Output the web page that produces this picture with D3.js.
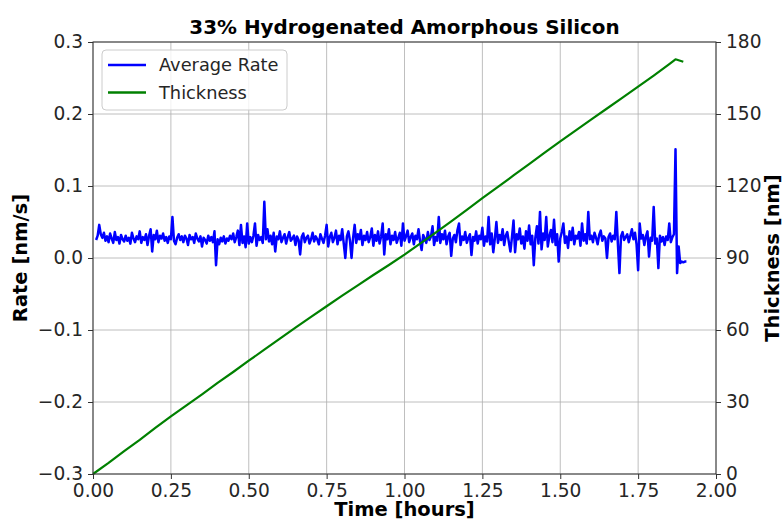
<!DOCTYPE html>
<html><head><meta charset="utf-8">
<script src="https://cdn.jsdelivr.net/npm/d3@7"></script>
<style>
html,body{margin:0;padding:0;background:#fff;}
text{font-family:"DejaVu Sans",sans-serif;}
</style></head>
<body><svg id="c" width="784" height="522"></svg>
<script>
const title = "33% Hydrogenated Amorphous Silicon";
const xTicks = [0,0.25,0.5,0.75,1.0,1.25,1.5,1.75,2.0];
const rateTicks = [-0.3,-0.2,-0.1,0.0,0.1,0.2,0.3];
const thickTicks = [0,30,60,90,120,150,180];
// rate samples: start time and spacing (hours), values in nm/s
const rateStart = 0.01, rateStep = 0.005;
const rateValues = [
0.025,0.031,0.046,0.033,0.028,0.035,0.024,0.030,0.022,0.034,0.027,0.021,0.036,0.025,0.029,0.020,0.032,0.026,0.023,0.031,
0.024,0.028,0.020,0.035,0.027,0.022,0.030,0.026,0.037,0.021,0.029,0.025,0.033,0.018,0.031,0.040,0.009,0.032,0.026,0.038,
0.022,0.031,0.027,0.034,0.024,0.029,0.021,0.030,0.026,0.057,0.024,0.019,0.028,0.033,0.025,0.030,0.022,0.031,0.027,0.018,
0.032,0.026,0.029,0.021,0.034,0.027,0.023,0.030,0.016,0.028,0.025,0.020,0.031,0.024,0.029,0.022,0.037,-0.010,0.026,0.019,
0.028,0.023,0.030,0.020,0.027,0.024,0.031,0.026,0.034,0.022,0.029,0.038,0.018,0.046,0.021,0.030,0.015,0.048,0.020,0.029,
0.022,0.031,0.048,0.017,0.032,0.025,0.029,0.021,0.078,0.026,0.040,0.023,0.031,0.019,0.035,0.009,0.030,0.026,0.037,0.022,
0.028,0.033,0.020,0.029,0.036,0.024,0.027,0.031,0.018,0.030,0.025,0.005,0.029,0.034,0.022,0.028,0.031,0.020,0.026,0.035,
0.023,0.030,0.026,0.019,0.033,0.027,0.021,0.031,0.046,0.016,0.029,0.035,0.022,0.028,0.038,0.019,0.031,0.025,0.040,0.020,
0.000,0.030,0.037,0.024,0.000,0.028,0.046,0.021,0.033,0.026,0.039,0.018,0.031,0.025,0.036,0.022,0.029,0.041,0.017,0.032,
0.024,0.037,0.020,0.030,0.048,0.005,0.033,0.026,0.040,0.019,0.031,0.025,0.036,0.021,0.028,0.035,0.017,0.048,0.024,0.030,
0.038,0.022,0.029,0.034,0.019,0.031,0.026,0.040,0.023,0.011,0.032,0.027,0.021,0.036,0.025,0.030,0.044,0.018,0.029,0.024,
0.057,0.021,0.033,0.026,0.038,0.019,0.030,0.035,0.003,0.027,0.032,0.022,0.039,0.048,0.018,0.030,0.025,0.036,0.021,0.028,
0.033,0.004,0.029,0.024,0.037,0.020,0.031,0.026,0.042,0.017,0.030,0.023,0.057,0.019,0.034,0.008,0.027,0.050,0.021,0.032,
0.025,0.040,0.018,0.031,0.036,0.022,0.009,0.029,0.052,0.008,0.033,0.026,0.041,0.020,0.030,0.013,0.037,0.024,0.045,0.019,
0.031,-0.010,0.028,0.044,0.020,0.064,0.012,0.034,0.025,0.057,0.016,0.030,0.039,0.022,0.053,0.018,0.033,-0.005,0.027,0.036,
0.048,0.021,0.030,0.014,0.037,0.025,0.042,0.019,0.031,0.027,0.036,0.017,0.048,0.024,0.033,0.020,0.064,0.026,0.031,0.022,
0.035,0.028,0.019,0.032,0.038,0.024,0.030,0.027,0.000,0.029,0.034,0.023,0.031,0.026,0.064,0.020,-0.021,0.030,0.036,0.025,
0.029,0.033,0.022,0.031,0.040,0.026,0.035,0.019,-0.017,0.048,0.027,0.032,0.018,0.030,0.037,0.002,0.028,0.024,0.071,0.020,
0.027,-0.014,0.031,0.023,0.029,0.018,0.030,0.025,0.048,0.022,0.029,0.033,0.151,-0.021,0.016,-0.007,-0.005,-0.006,-0.005,-0.005
];
const thickTimes = [0,0.05,0.1,0.15,0.2,0.25,0.3,0.35,0.4,0.45,0.5,0.55,0.6,0.65,0.7,0.75,0.8,0.85,0.9,0.95,1.0,1.05,1.1,1.15,1.2,1.25,1.3,1.35,1.4,1.45,1.5,1.55,1.6,1.65,1.7,1.75,1.8,1.85,1.87,1.895];
const thickValues = [0,4.6,9.5,14.2,19.2,24.0,28.6,33.2,38.0,42.5,47.2,51.8,56.4,61.0,65.5,69.9,74.3,78.6,82.9,87.1,91.4,96.0,100.6,105.3,110.1,114.9,119.6,124.4,129.1,133.9,138.6,143.2,147.8,152.3,156.8,161.4,166.0,170.8,172.8,171.8];
const legendLabels = ["Average Rate","Thickness"];
const colors = ["#0000ff","#008000"];

const svg = d3.select("#c");
const L=93,R=716,T=42,B=474;
const x = d3.scaleLinear().domain([0,2]).range([L,R]);
const yL = d3.scaleLinear().domain([-0.3,0.3]).range([B,T]);
const yR = d3.scaleLinear().domain([0,180]).range([B,T]);

// grid
const g = svg.append("g");
g.selectAll(".gx").data(xTicks).join("line")
  .attr("x1",d=>x(d)).attr("x2",d=>x(d)).attr("y1",T).attr("y2",B)
  .attr("stroke","#b0b0b0").attr("stroke-width",1).attr("opacity",0.8);
g.selectAll(".gy").data(rateTicks).join("line")
  .attr("y1",d=>yL(d)).attr("y2",d=>yL(d)).attr("x1",L).attr("x2",R)
  .attr("stroke","#b0b0b0").attr("stroke-width",1).attr("opacity",0.8);

const rateData = rateValues.map((v,i)=>[rateStart+i*rateStep, v]);
const thickData = thickTimes.map((t,i)=>[t, thickValues[i]]);

svg.append("path").datum(rateData)
  .attr("fill","none").attr("stroke",colors[0]).attr("stroke-width",2.5).attr("stroke-linejoin","round")
  .attr("d", d3.line().x(d=>x(d[0])).y(d=>yL(d[1])));
svg.append("path").datum(thickData)
  .attr("fill","none").attr("stroke",colors[1]).attr("stroke-width",2.2).attr("stroke-linejoin","round")
  .attr("d", d3.line().x(d=>x(d[0])).y(d=>yR(d[1])));

// axes
const fmtX = d3.format(".2f");
const fmtL = d=> d<0 ? "\u2212"+Math.abs(d).toFixed(1) : d.toFixed(1);
const ax = svg.append("g").attr("transform",`translate(0,${B})`)
  .call(d3.axisBottom(x).tickValues(xTicks).tickFormat(fmtX).tickSizeOuter(0).tickSize(5).tickPadding(4));
const al = svg.append("g").attr("transform",`translate(${L},0)`)
  .call(d3.axisLeft(yL).tickValues(rateTicks).tickFormat(fmtL).tickSizeOuter(0).tickSize(5).tickPadding(5));
const ar = svg.append("g").attr("transform",`translate(${R},0)`)
  .call(d3.axisRight(yR).tickValues(thickTicks).tickFormat(d3.format("d")).tickSizeOuter(0).tickSize(5).tickPadding(5));
[ax,al,ar].forEach(a=>{
  a.selectAll("text").attr("font-size","18.6px").attr("fill","#262626").attr("font-family","DejaVu Sans");
  a.selectAll("line").attr("stroke","#333");
  a.select(".domain").remove();
});
ax.selectAll("text").attr("dy","0.75em");
// spines
svg.append("rect").attr("x",L).attr("y",T).attr("width",R-L).attr("height",B-T)
  .attr("fill","none").attr("stroke","#333").attr("stroke-width",1);

// title + labels
svg.append("text").attr("x",(L+R)/2).attr("y",34).attr("text-anchor","middle")
  .attr("font-size","19.9px").attr("font-weight","bold").text(title);
svg.append("text").attr("x",(L+R)/2).attr("y",516).attr("text-anchor","middle")
  .attr("font-size","19.5px").attr("font-weight","bold").text("Time [hours]");
svg.append("text").attr("transform",`translate(27,${(T+B)/2}) rotate(-90)`).attr("text-anchor","middle")
  .attr("font-size","19.5px").attr("font-weight","bold").text("Rate [nm/s]");
svg.append("text").attr("transform",`translate(779,${(T+B)/2}) rotate(-90)`).attr("text-anchor","middle")
  .attr("font-size","19.5px").attr("font-weight","bold").text("Thickness [nm]");

// legend
const lg = svg.append("g");
lg.append("rect").attr("x",102).attr("y",50).attr("width",185).attr("height",60).attr("rx",4)
  .attr("fill","#fff").attr("fill-opacity",0.8).attr("stroke","#cccccc").attr("stroke-width",1);
legendLabels.forEach((lab,i)=>{
  const yy = 65 + i*27.5;
  lg.append("line").attr("x1",108).attr("x2",146).attr("y1",yy).attr("y2",yy)
    .attr("stroke",colors[i]).attr("stroke-width",2.4);
  lg.append("text").attr("x",159).attr("y",yy+6.3).attr("font-size","17.8px").attr("fill","#262626").text(lab);
});
</script></body></html>
